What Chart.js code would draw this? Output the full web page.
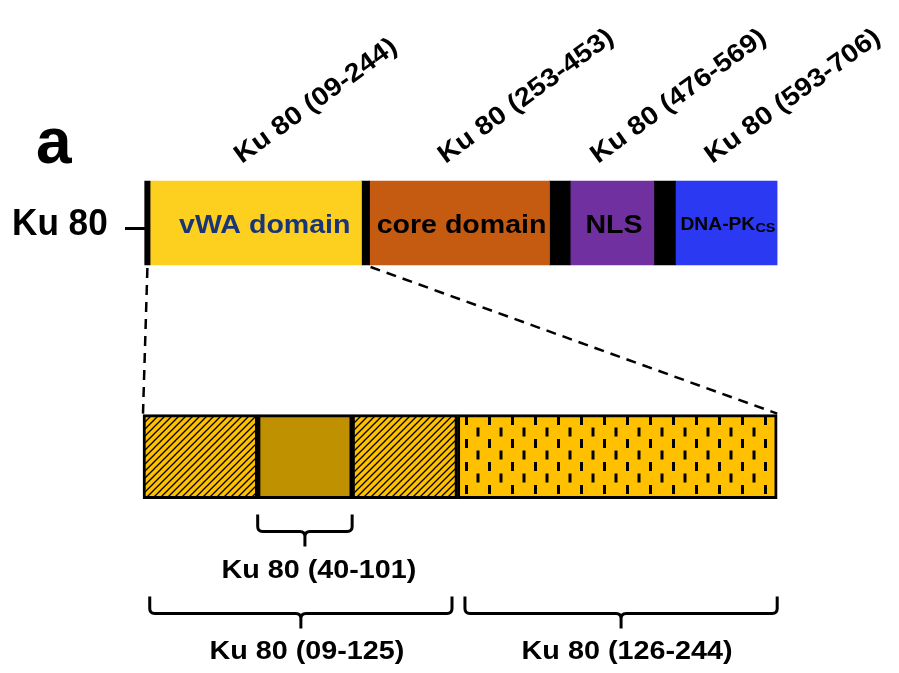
<!DOCTYPE html>
<html>
<head>
<meta charset="utf-8">
<script src="https://cdn.jsdelivr.net/npm/chart.js@4.4.0/dist/chart.umd.min.js"></script>
<style>
  html, body { margin: 0; padding: 0; background: #ffffff; }
  #wrap { width: 899px; height: 673px; }
</style>
</head>
<body>
<div id="wrap"><canvas id="diagram" width="899" height="673"></canvas></div>
<script>
// rows of the diagram (full protein, spacer, zoomed vWA domain)
const rowLabels = ['Ku 80', '', 'zoom'];

// full-length Ku 80, residues
const domainNames = ['', 'vWA domain', '', 'core domain', '', 'NLS', '', 'DNA-PK'];
const domainStart = [3, 9, 244, 253, 453, 476, 569, 593];
const domainEnd = [9, 244, 253, 453, 476, 569, 593, 706];
const domainTitles = ['Ku 80 (09-244)', 'Ku 80 (253-453)', 'Ku 80 (476-569)', 'Ku 80 (593-706)'];
const titledDomains = [1, 3, 5, 7];

// zoomed vWA domain (as drawn, not to scale)
const zoomStart = [9, 51.5, 86.5, 125.5];
const zoomEnd = [51.5, 86.5, 125.5, 244];

// brackets under the zoom
const bracketStart = [51.5, 11.5, 128.3];
const bracketEnd = [86.5, 123.5, 244];
const bracketLabels = ['Ku 80 (40-101)', 'Ku 80 (09-125)', 'Ku 80 (126-244)'];

// styles
const domainColors = ['#000000', '#FDCF1F', '#000000', '#C55A11', '#000000', '#7030A0', '#000000', '#2B3AF2'];
const domainTextColors = ['#000', '#18357a', '#000', '#000', '#000', '#000', '#000', '#000'];
const FONT = '"Liberation Sans", Arial, sans-serif';

const canvas = document.getElementById('diagram');
const ctx = canvas.getContext('2d');

function hatchPattern() {
    const c = document.createElement('canvas');
    c.width = 7; c.height = 7;
    const g = c.getContext('2d');
    g.fillStyle = '#FFC000';
    g.fillRect(0, 0, 7, 7);
    g.strokeStyle = '#000';
    g.lineWidth = 1.3;
    g.beginPath();
    g.moveTo(-1, 8); g.lineTo(8, -1);
    g.moveTo(-1, 1); g.lineTo(1, -1);
    g.moveTo(6, 8); g.lineTo(8, 6);
    g.stroke();
    return ctx.createPattern(c, 'repeat');
}

function dashPattern() {
    const c = document.createElement('canvas');
    c.width = 23; c.height = 23;
    const g = c.getContext('2d');
    g.fillStyle = '#FFC000';
    g.fillRect(0, 0, 23, 23);
    g.fillStyle = '#000';
    g.fillRect(5, 2, 3, 9);
    g.fillRect(16.5, 13.5, 3, 9);
    return ctx.createPattern(c, 'repeat');
}

const zoomFills = [hatchPattern(), '#BF9000', hatchPattern(), dashPattern()];

function drawText(c, text, x, y, size, stretch, align, color) {
    c.save();
    c.translate(x, y);
    c.scale(stretch, 1);
    c.font = 'bold ' + size + 'px ' + FONT;
    c.textAlign = align;
    c.textBaseline = 'alphabetic';
    c.fillStyle = color;
    c.fillText(text, 0, 0);
    c.restore();
}

function bracket(c, x1, x2, yTop, yMid, yStem) {
    const r = 5;
    const xm = (x1 + x2) / 2;
    c.beginPath();
    c.moveTo(x1, yTop);
    c.lineTo(x1, yMid - r);
    c.quadraticCurveTo(x1, yMid, x1 + r, yMid);
    c.lineTo(xm - r, yMid);
    c.quadraticCurveTo(xm, yMid, xm, yMid + r);
    c.lineTo(xm, yStem);
    c.moveTo(xm, yMid + r);
    c.quadraticCurveTo(xm, yMid, xm + r, yMid);
    c.lineTo(x2 - r, yMid);
    c.quadraticCurveTo(x2, yMid, x2, yMid - r);
    c.lineTo(x2, yTop);
    c.stroke();
    return xm;
}

// Datasets
const datasets = [];
domainStart.forEach(function(s, i) {
    datasets.push({
        data: [[s, domainEnd[i]], null, null],
        backgroundColor: domainColors[i],
        borderWidth: 0,
        barThickness: 84,
        grouped: false,
        xAxisID: 'x'
    });
});
zoomStart.forEach(function(s, i) {
    datasets.push({
        data: [null, null, [s, zoomEnd[i]]],
        backgroundColor: zoomFills[i],
        borderColor: '#000000',
        borderWidth: 3,
        borderSkipped: false,
        barThickness: 84,
        grouped: false,
        xAxisID: 'xz'
    });
});

const labelsPlugin = {
    id: 'labels',
    afterDatasetsDraw(chart) {
        const c = chart.ctx;
        const x = chart.scales.x;
        const xz = chart.scales.xz;
        const y = chart.scales.y;
        const topMid = y.getPixelForValue(0);
        const topBottom = topMid + 42;
        const zoomMid = y.getPixelForValue(2);
        const zoomTop = zoomMid - 42;
        const zoomBottom = zoomMid + 42;

        // panel letter and row label
        drawText(c, 'a', 36, 163, 64, 1, 'left', '#000');
        drawText(c, rowLabels[0], 12, topMid + 12, 37, 0.95, 'left', '#000');
        c.fillStyle = '#000';
        c.fillRect(125, topMid + 4, 20, 3);

        // names inside domains
        domainNames.forEach(function(name, i) {
            if (!name) return;
            const cx = (x.getPixelForValue(domainStart[i]) + x.getPixelForValue(domainEnd[i])) / 2;
            if (name === 'DNA-PK') {
                drawText(c, name, x.getPixelForValue(domainStart[i]) + 5, topMid + 7, 18.5, 1.04, 'left', domainTextColors[i]);
                drawText(c, 'CS', x.getPixelForValue(domainStart[i]) + 80, topMid + 9, 12.5, 1.15, 'left', domainTextColors[i]);
            } else {
                const shift = i === 1 ? 9 : 2;
                drawText(c, name, cx + shift, topMid + 10, 25.5, 1.12, 'center', domainTextColors[i]);
            }
        });

        // rotated residue ranges above domains
        titledDomains.forEach(function(d, k) {
            const cx = (x.getPixelForValue(domainStart[d]) + x.getPixelForValue(domainEnd[d])) / 2;
            c.save();
            c.translate(cx - 14, 164);
            c.rotate(-36 * Math.PI / 180);
            c.scale(1.1, 1);
            c.font = 'bold 26px ' + FONT;
            c.fillStyle = '#000';
            c.textAlign = 'left';
            c.fillText(domainTitles[k], 0, 0);
            c.restore();
        });

        // dashed zoom lines
        c.save();
        c.strokeStyle = '#000';
        c.lineWidth = 2.5;
        c.setLineDash([10, 7]);
        c.beginPath();
        c.moveTo(x.getPixelForValue(6), topBottom + 3);
        c.lineTo(xz.getPixelForValue(zoomStart[0]), zoomTop - 1);
        c.moveTo(x.getPixelForValue(domainStart[3]) + 1, topBottom + 2);
        c.lineTo(xz.getPixelForValue(zoomEnd[3]), zoomTop - 1);
        c.stroke();
        c.restore();

        // brackets and their labels
        c.save();
        c.strokeStyle = '#000';
        c.lineWidth = 3;
        c.lineCap = 'butt';
        bracketStart.forEach(function(s, i) {
            const off = i === 0 ? 0 : 82;
            const xm = bracket(c, xz.getPixelForValue(s), xz.getPixelForValue(bracketEnd[i]),
                zoomBottom + 16 + off, zoomBottom + 33 + off, zoomBottom + 48 + off);
            const base = i === 0 ? zoomBottom + 79 : zoomBottom + 160;
            drawText(c, bracketLabels[i], xm + (i === 0 ? 14 : 6), base, 25, 1.15, 'center', '#000');
        });
        c.restore();
    }
};

const chart = new Chart(canvas, {
    type: 'bar',
    data: { labels: rowLabels, datasets: datasets },
    options: {
        indexAxis: 'y',
        responsive: false,
        animation: false,
        layout: { padding: { left: 142, right: 121, top: 164.6, bottom: 158 } },
        plugins: { legend: { display: false }, tooltip: { enabled: false } },
        scales: {
            x: { type: 'linear', min: 0, max: 707, display: false },
            xz: { type: 'linear', axis: 'x', min: 8.63, max: 244.3, display: false },
            y: { type: 'category', display: false, offset: true }
        }
    },
    plugins: [labelsPlugin]
});
</script>
</body>
</html>
